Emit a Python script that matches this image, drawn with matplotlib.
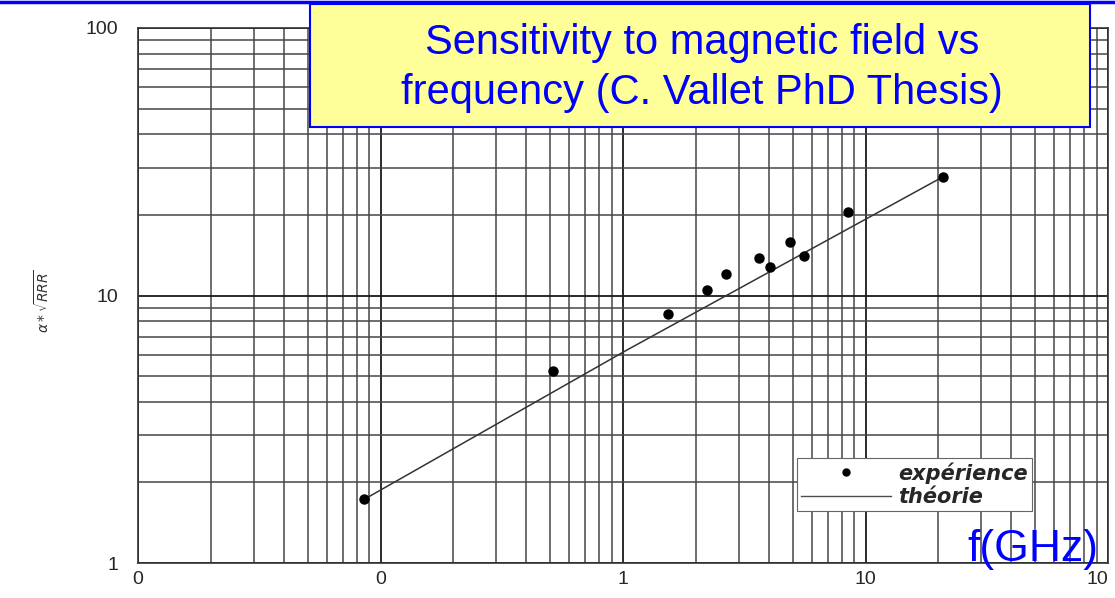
import matplotlib.pyplot as plt
import numpy as np
from matplotlib.legend_handler import HandlerLine2D
from matplotlib.lines import Line2D
from matplotlib.patches import FancyBboxPatch

# measured points (GHz, alpha*sqrt(RRR))
freq_exp = [0.0857, 0.516, 1.54, 2.21, 2.66, 3.64, 4.04, 4.88, 5.59, 8.49, 20.9]
sens_exp = [1.73, 5.23, 8.53, 10.5, 12.0, 13.8, 12.8, 15.8, 14.1, 20.5, 27.8]

# theory curve
freq_th = [0.0857, 1.04, 20.9]
sens_th = [1.73, 6.26, 27.8]

xticks = [0.01, 0.1, 1, 10, 100]
xticklabels = ["0", "0", "1", "10", "10"]
yticks = [1, 10, 100]
yticklabels = ["1", "10", "100"]


class MarkerRight(HandlerLine2D):
    # put the dot next to the text, like on the scanned sheet
    def get_xdata(self, legend, xdescent, ydescent, width, height, fontsize):
        xdata = [-xdescent, -xdescent + width]
        return xdata, [-xdescent + 0.93 * width]


plt.rcParams['font.family'] = ['Liberation Sans', 'DejaVu Sans']

fig = plt.figure(figsize=(11.15, 5.98), dpi=100)
ax = fig.add_axes([138 / 1115, 1 - 563 / 598, 970 / 1115, 535 / 598])

ax.set_xscale('log')
ax.set_yscale('log')
ax.set_xlim(0.01, 100)
ax.set_ylim(1, 100)

ax.grid(which='major', color='0.1', lw=1.3)
ax.grid(which='minor', color='0.28', lw=1.1)
ax.set_axisbelow(True)

ax.plot(freq_th, sens_th, color='0.2', lw=1.1, label='théorie', zorder=3)
ax.plot(freq_exp, sens_exp, 'o', color='black', ms=6.5, ls='none',
        label='expérience', zorder=4)

ax.set_xticks(xticks)
ax.set_xticklabels(xticklabels)
ax.set_yticks(yticks)
ax.set_yticklabels(yticklabels)
ax.xaxis.set_minor_formatter(plt.NullFormatter())
ax.yaxis.set_minor_formatter(plt.NullFormatter())
ax.tick_params(which='both', length=0, labelsize=14, colors='0.15')
ax.tick_params(axis='x', pad=6)
ax.tick_params(axis='y', pad=14)
ax.get_xticklabels()[-1].set_ha('right')
for sp in ax.spines.values():
    sp.set_color('0.2')
    sp.set_linewidth(1.2)

ax.set_ylabel(r'$\alpha * \sqrt{RRR}$', fontsize=10, color='0.2',
              family='DejaVu Serif')
ax.yaxis.set_label_coords((52 - 138) / 970, 0.49)

handles = [Line2D([], [], marker='o', color='black', ls='none', ms=5),
           Line2D([], [], color='0.3', lw=1.0)]
leg = ax.legend(handles, ['expérience', 'théorie'], loc='lower left',
                bbox_to_anchor=((797 - 138) / 970, (563 - 511) / 535),
                handlelength=4.3, handletextpad=0.35, labelspacing=0.15,
                prop={'style': 'italic', 'weight': 'bold', 'size': 15,
                      'family': 'DejaVu Sans'},
                frameon=True, fancybox=False, edgecolor='0.4',
                framealpha=1, borderpad=0.2, borderaxespad=0,
                handler_map={handles[0]: MarkerRight()})
leg.get_frame().set_linewidth(0.8)
for t in leg.get_texts():
    t.set_color('0.15')

ax.text(0.99, 0.026, 'f(GHz)', transform=ax.transAxes, ha='right',
        va='center', fontsize=32, color='#0000ff')

# title box
box = FancyBboxPatch((310 / 1115, 1 - 127 / 598), 780 / 1115, 123 / 598,
                     boxstyle='square,pad=0', transform=fig.transFigure,
                     facecolor='#ffff99', edgecolor='#0000ff', lw=1.5, zorder=5)
fig.patches.append(box)
fig.text(702 / 1115, 1 - 68 / 598,
         'Sensitivity to magnetic field vs\nfrequency (C. Vallet PhD Thesis)',
         ha='center', va='center', fontsize=30, color='#0000ff',
         linespacing=1.3, zorder=6)

fig.add_artist(Line2D([0, 1], [0.997, 0.997], transform=fig.transFigure,
                      color='#0000ff', lw=2.5))

fig.savefig('out.png', dpi=100)
